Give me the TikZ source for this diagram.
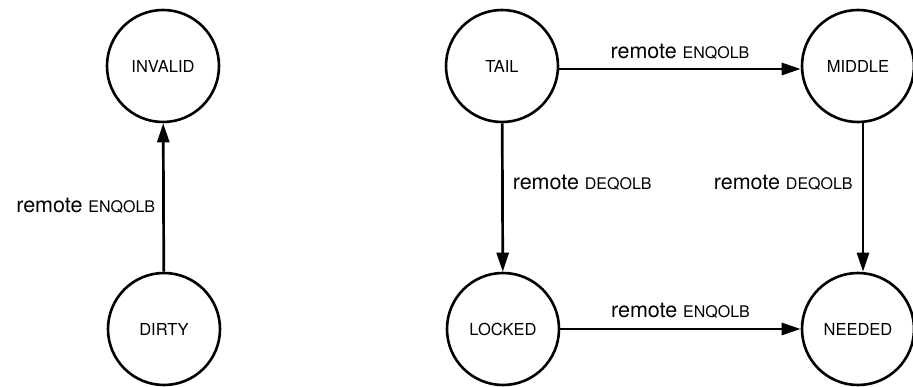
\documentclass[tikz,border=0pt]{standalone}
\usepackage{fontspec}
\setmainfont{TeX Gyre Heros}
\usetikzlibrary{arrows.meta}
\tikzset{
  state/.style={circle, draw, line width=2.6pt, minimum size=112pt, inner sep=0pt,
    font=\fontsize{16.5}{19}\selectfont},
  trans/.style={line width=2.7pt, -{Triangle[length=19pt,width=12pt]}},
  lbl/.style={inner sep=0pt, font=\fontsize{21.5}{26}\selectfont}
}
\newcommand{\opname}[1]{{\fontsize{16}{18}\selectfont #1}}
\begin{document}
\begin{tikzpicture}[x=1pt,y=-1pt]
  \useasboundingbox (0,0) rectangle (913,387);
  % left machine
  \node[state] (invalid) at (163,66) {INVALID};
  \node[state] (dirty)   at (164,329) {DIRTY};
  \draw[trans] (dirty) -- (invalid)
    node[lbl, midway, left=7pt, yshift=-8pt] {remote \opname{ENQOLB}};
  % right machine
  \node[state] (tail)   at (502,66)  {TAIL};
  \node[state] (middle) at (858,66)  {MIDDLE};
  \node[state] (locked) at (503,329) {LOCKED};
  \node[state] (needed) at (858,329) {NEEDED};
  \draw[trans] (tail.east |- 0,69) -- (middle.west |- 0,69)
    node[lbl, midway, above=8pt] {remote \opname{ENQOLB}};
  \draw[trans] (tail) -- (locked)
    node[lbl, pos=0.4, right=9pt] {remote \opname{DEQOLB}};
  \draw[trans] (middle.south -| 863,0) -- (needed.north -| 863,0)
    node[lbl, pos=0.4, left=9pt] {remote \opname{DEQOLB}};
  \draw[trans] (locked.east |- 0,329) -- (needed.west |- 0,329)
    node[lbl, midway, above=9pt] {remote \opname{ENQOLB}};
\end{tikzpicture}
\end{document}
